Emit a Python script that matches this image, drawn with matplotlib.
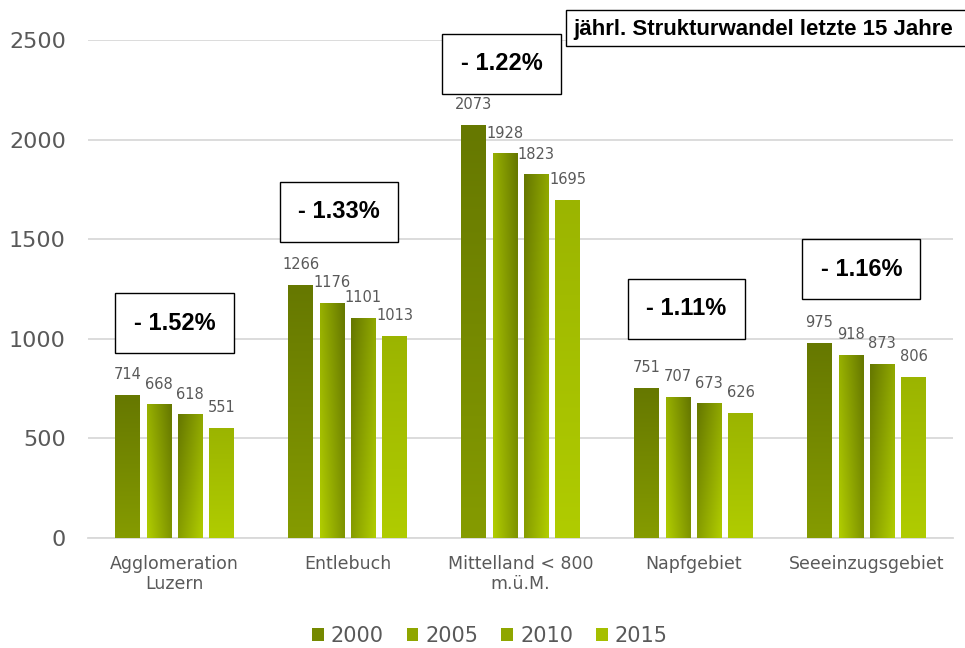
import numpy as np
import matplotlib
matplotlib.use("Agg")
import matplotlib.pyplot as plt
from matplotlib.patches import Patch, Rectangle

regions = ["Agglomeration\nLuzern", "Entlebuch", "Mittelland < 800\nm.ü.M.", "Napfgebiet", "Seeeinzugsgebiet"]
years = ["2000", "2005", "2010", "2015"]
v2000 = [714, 1266, 2073, 751, 975]
v2005 = [668, 1176, 1928, 707, 918]
v2010 = [618, 1101, 1823, 673, 873]
v2015 = [551, 1013, 1695, 626, 806]
rates = ["- 1.52%", "- 1.33%", "- 1.22%", "- 1.11%", "- 1.16%"]
note = "jährl. Strukturwandel letzte 15 Jahre"

# where the rate boxes sit (x in category units, y in data units)
box_x = [0.0, 0.95, 1.89, 2.96, 3.97]
box_y = [1079, 1637, 2380, 1150, 1350]

dark = np.array([0x66, 0x78, 0x00]) / 255
bright = np.array([0xb0, 0xcc, 0x00]) / 255


def gradient(k, h=60, w=12):
    v, u = np.mgrid[0:1:h * 1j, 0:1:w * 1j]
    if k == 0:
        t = v * 0.42
    elif k == 1:
        t = 0.65 * (1 - u) + 0.35 * v
    elif k == 2:
        t = 0.55 * u + 0.45 * v
    else:
        t = 0.72 + 0.28 * v
    return dark + (bright - dark) * t[..., None]


mid_cols = [dark + (bright - dark) * f for f in (0.2, 0.55, 0.55, 0.85)]

fig = plt.figure(figsize=(9.65, 6.48), dpi=100)
ax = fig.add_axes([88 / 965, 110 / 648, 865 / 965, 498 / 648])

x = np.arange(len(regions))
step = 0.181
width = 0.142
series = [v2000, v2005, v2010, v2015]
for k, vals in enumerate(series):
    xs = x + (k - 1.5) * step
    bars = ax.bar(xs, vals, width, color="none", linewidth=0, zorder=4)
    for b, val in zip(bars, vals):
        x0 = b.get_x()
        ax.imshow(gradient(k), extent=[x0, x0 + width, 0, val], aspect="auto",
                  origin="upper", zorder=3, interpolation="bilinear")
        ax.annotate(str(val), (x0 + width / 2, val), xytext=(0, 15), textcoords="offset points",
                    ha="center", va="center", fontsize=10.5, color="#595959")

for t, bx, by in zip(rates, box_x, box_y):
    ax.text(bx, by, t, ha="center", va="center", fontsize=17, fontweight="bold",
            family="Liberation Sans", zorder=5,
            bbox=dict(boxstyle="square,pad=0.78", facecolor="white", edgecolor="black", linewidth=1))

ax.set_xlim(-0.5, 4.5)
ax.set_ylim(0, 2500)
ax.set_yticks([0, 500, 1000, 1500, 2000, 2500])
ax.set_xticks(x)
ax.set_xticklabels(regions, fontsize=12.5, color="#595959")
ax.tick_params(axis="y", labelsize=16, labelcolor="#595959", length=0, pad=16)
ax.tick_params(axis="x", length=0, pad=12)
ax.grid(axis="y", color="#d9d9d9", linewidth=1.3, zorder=0)
ax.set_axisbelow(True)
for s in ["top", "right", "left"]:
    ax.spines[s].set_visible(False)
ax.spines["bottom"].set_color("#d9d9d9")
ax.spines["bottom"].set_linewidth(1.3)

fig.patches.append(Rectangle((566 / 965, 1 - 46 / 648), 0.5, 36 / 648, transform=fig.transFigure,
                             facecolor="white", edgecolor="black", linewidth=1, zorder=6))
fig.text(573 / 965, 1 - 29 / 648, note, ha="left", va="center", fontsize=16, fontweight="bold",
         family="Liberation Sans", zorder=7)

handles = [Patch(facecolor=c, edgecolor="none") for c in mid_cols]
leg = fig.legend(handles, years, loc="center", bbox_to_anchor=(490 / 965, 1 - 636 / 648), ncol=4,
                 frameon=False, fontsize=15, handlelength=0.55, handleheight=0.55,
                 handletextpad=0.35, columnspacing=1.1)
for txt in leg.get_texts():
    txt.set_color("#595959")

fig.savefig("out.png", dpi=100)
